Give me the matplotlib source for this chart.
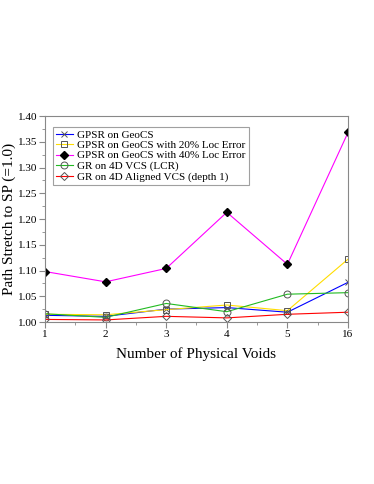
import numpy as np
import matplotlib.pyplot as plt

plt.rcParams['font.family'] = ['Liberation Serif', 'DejaVu Serif']

# categorias do eixo X (espaçamento uniforme)
voids = ['1', '2', '3', '4', '5', '16']

# valores
gpsr = [1.013, 1.011, 1.025, 1.028, 1.019, 1.077]
gpsr_20 = [1.015, 1.014, 1.024, 1.033, 1.022, 1.122]
gpsr_40 = [1.098, 1.078, 1.104, 1.213, 1.112, 1.368]
gr_lcr = [1.016, 1.009, 1.036, 1.020, 1.054, 1.057]
gr_aligned = [1.005, 1.004, 1.011, 1.008, 1.015, 1.019]

labels = ['GPSR on GeoCS',
          'GPSR on GeoCS with 20% Loc Error',
          'GPSR on GeoCS with 40% Loc Error',
          'GR on 4D VCS (LCR)',
          'GR on 4D Aligned VCS (depth 1)']

fig = plt.figure(figsize=(3.74, 4.84), dpi=100)
ax = fig.add_axes([0.1203, 0.3347, 0.8102, 0.4256])

x = np.arange(len(voids))
gray = '#555555'

ax.plot(x, gpsr, color='blue', lw=0.8, marker='x', ms=5, mec=gray, mew=0.7, label=labels[0])
ax.plot(x, gpsr_20, color='#ffdd00', lw=0.8, marker='s', ms=5, mfc='none', mec=gray, mew=0.7, label=labels[1])
ax.plot(x, gpsr_40, color='magenta', lw=0.8, marker='D', ms=4.5, mfc='black', mec='black', label=labels[2])
ax.plot(x, gr_lcr, color='#22bb22', lw=0.8, marker='o', ms=5, mfc='none', mec=gray, mew=0.7, label=labels[3])
ax.plot(x, gr_aligned, color='red', lw=0.8, marker='D', ms=4.5, mfc='none', mec=gray, mew=0.7, label=labels[4])

ax.set_xlim(0, len(voids) - 1)
ax.set_ylim(1.0, 1.4)
ax.set_xticks(x)
ax.set_xticklabels(voids)
ax.set_xticks(x[:-1] + 0.5, minor=True)
ax.set_yticks(np.arange(1.0, 1.401, 0.05))
ax.set_yticklabels(['%.2f' % v for v in np.arange(1.0, 1.401, 0.05)])
ax.set_yticks(np.arange(1.0, 1.401, 0.025), minor=True)

for s in ax.spines.values():
    s.set_color('#888888')
    s.set_linewidth(0.8)
ax.tick_params(which='both', colors='#888888', labelcolor='black', labelsize=8)
ax.tick_params(which='major', length=4, pad=1.5)
ax.tick_params(which='minor', length=2.5)

ax.set_xlabel('Number of Physical Voids', fontsize=11)
ax.set_ylabel('Path Stretch to SP (=1.0)', fontsize=11)
ax.yaxis.set_label_coords(-0.095, 0.5)
ax.xaxis.set_label_coords(0.5, -0.12)

leg = ax.legend(loc='upper left', bbox_to_anchor=(0.007, 0.975), fontsize=8, fancybox=False,
                borderpad=0.3, labelspacing=0.05, handlelength=1.5, handletextpad=0.4)
leg.get_frame().set_edgecolor('#888888')
leg.get_frame().set_linewidth(0.8)

fig.savefig('out.png', dpi=100)
